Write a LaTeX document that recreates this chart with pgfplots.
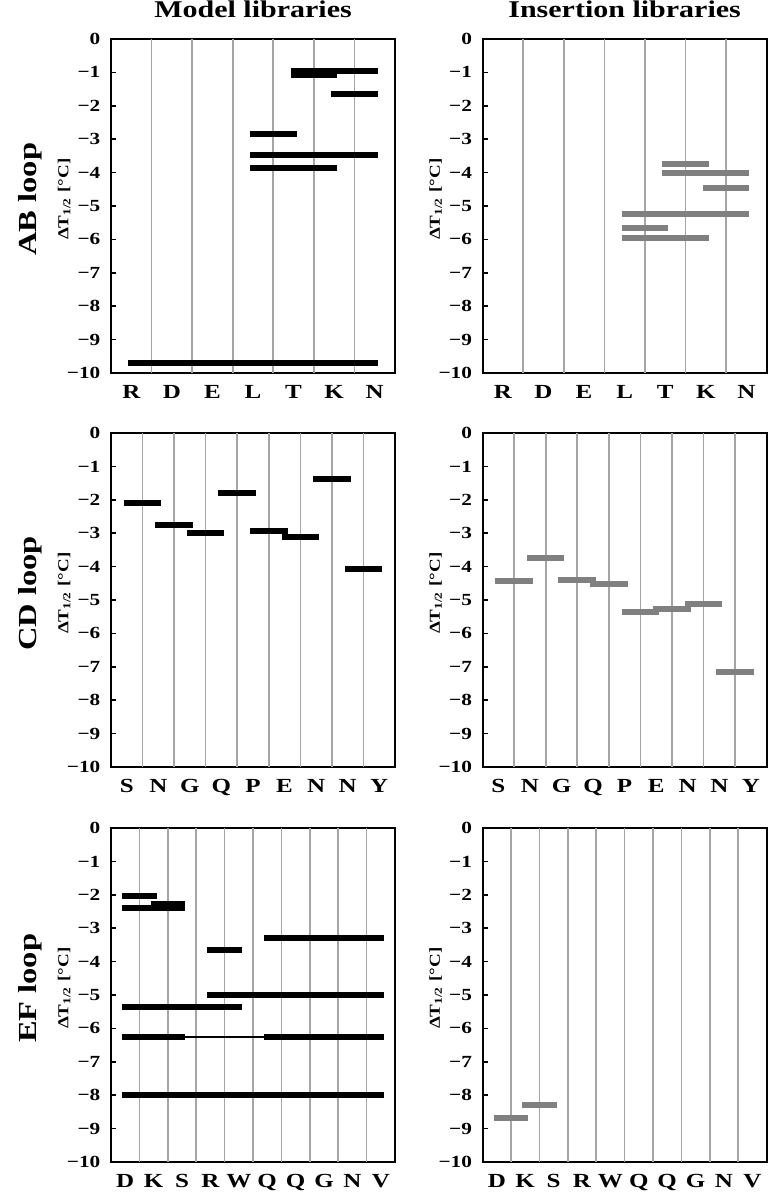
\documentclass[border=0pt]{standalone}
\usepackage{fontspec}
\setmainfont[FakeStretch=1.25]{Liberation Serif}
\usepackage{pgfplots}
\pgfplotsset{compat=1.18}

\definecolor{barg}{RGB}{128,128,128}
\definecolor{gridg}{RGB}{165,165,165}

\pgfplotsset{
  panel/.style={
    scale only axis, width=142pt, height=167pt, anchor=south west,
    clip=false,
    ymin=-10, ymax=0,
    ytick={-10,...,0},
    yticklabels={−10,−9,−8,−7,−6,−5,−4,−3,−2,−1,0},
    ytick pos=left, tick align=inside, major tick length=2.5pt,
    ytick style={black, line width=0.8pt},
    xtick style={draw=none},
    axis line style={line width=1pt},
    yticklabel style={font=\bfseries\fontsize{8.5}{10}\selectfont, xshift=-1.8pt},
    xticklabel style={font=\bfseries\fontsize{10}{11}\selectfont, yshift=-2.7pt},
    ylabel={ΔT\textsubscript{1/2} [°C]},
    ylabel style={font=\bfseries\fontsize{7.6}{9}\selectfont, at={(axis description cs:-0.165,0.52)}, anchor=center},
    extra x tick style={grid=major, major grid style={gridg, line width=0.8pt}},
    extra x tick labels={},
    title style={font=\bfseries\fontsize{12}{13}\selectfont, at={(axis description cs:0.5,1)}, anchor=base, yshift=4.8pt},
  },
  blk/.style={black, line width=3pt, line cap=rect, mark=none},
  gry/.style={barg, line width=3pt, line cap=rect, mark=none},
}
\newcommand{\looplabel}[1]{\node[rotate=90, font=\bfseries\fontsize{13}{14}\selectfont] at (axis description cs:-0.285,0.52) {#1};}

\begin{document}
\begin{tikzpicture}
\useasboundingbox (0,0) rectangle (385pt,596pt);

% ---- AB loop
\begin{axis}[panel, at={(55.5pt,409.5pt)}, title={Model libraries},
    xmin=0.5, xmax=7.5, xtick={1,...,7}, xticklabels={R,D,E,L,T,K,N},
    extra x ticks={1.5,2.5,...,6.5}]
\addplot[blk] coordinates {(5,-0.96) (7,-0.96)};
\addplot[blk] coordinates {(5,-1.09) (6,-1.09)};
\addplot[blk] coordinates {(6,-1.65) (7,-1.65)};
\addplot[blk] coordinates {(4,-2.84) (5,-2.84)};
\addplot[blk] coordinates {(4,-3.47) (7,-3.47)};
\addplot[blk] coordinates {(4,-3.87) (6,-3.87)};
\addplot[blk] coordinates {(1,-9.70) (7,-9.70)};
\looplabel{AB loop}
\end{axis}

\begin{axis}[panel, at={(241.3pt,409.5pt)}, title={Insertion libraries},
    xmin=0.5, xmax=7.5, xtick={1,...,7}, xticklabels={R,D,E,L,T,K,N},
    extra x ticks={1.5,2.5,...,6.5}]
\addplot[gry] coordinates {(5,-3.74) (6,-3.74)};
\addplot[gry] coordinates {(5,-4.01) (7,-4.01)};
\addplot[gry] coordinates {(6,-4.46) (7,-4.46)};
\addplot[gry] coordinates {(4,-5.23) (7,-5.23)};
\addplot[gry] coordinates {(4,-5.67) (5,-5.67)};
\addplot[gry] coordinates {(4,-5.95) (6,-5.95)};
\end{axis}

% ---- CD loop
\begin{axis}[panel, at={(55.5pt,212.5pt)},
    xmin=0.5, xmax=9.5, xtick={1,...,9}, xticklabels={S,N,G,Q,P,E,N,N,Y},
    extra x ticks={1.5,2.5,...,8.5}]
\addplot[blk] coordinates {(1,-2.10) (2,-2.10)};
\addplot[blk] coordinates {(2,-2.76) (3,-2.76)};
\addplot[blk] coordinates {(3,-2.99) (4,-2.99)};
\addplot[blk] coordinates {(4,-1.80) (5,-1.80)};
\addplot[blk] coordinates {(5,-2.93) (6,-2.93)};
\addplot[blk] coordinates {(6,-3.10) (7,-3.10)};
\addplot[blk] coordinates {(7,-1.38) (8,-1.38)};
\addplot[blk] coordinates {(8,-4.08) (9,-4.08)};
\looplabel{CD loop}
\end{axis}

\begin{axis}[panel, at={(241.3pt,212.5pt)},
    xmin=0.5, xmax=9.5, xtick={1,...,9}, xticklabels={S,N,G,Q,P,E,N,N,Y},
    extra x ticks={1.5,2.5,...,8.5}]
\addplot[gry] coordinates {(1,-4.43) (2,-4.43)};
\addplot[gry] coordinates {(2,-3.73) (3,-3.73)};
\addplot[gry] coordinates {(3,-4.40) (4,-4.40)};
\addplot[gry] coordinates {(4,-4.51) (5,-4.51)};
\addplot[gry] coordinates {(5,-5.36) (6,-5.36)};
\addplot[gry] coordinates {(6,-5.26) (7,-5.26)};
\addplot[gry] coordinates {(7,-5.11) (8,-5.11)};
\addplot[gry] coordinates {(8,-7.17) (9,-7.17)};
\end{axis}

% ---- EF loop
\begin{axis}[panel, at={(55.5pt,15pt)},
    xmin=0.5, xmax=10.5, xtick={1,...,10}, xticklabels={D,K,S,R,W,Q,Q,G,N,V},
    extra x ticks={1.5,2.5,...,9.5}]
\addplot[blk] coordinates {(1,-2.05) (2,-2.05)};
\addplot[blk] coordinates {(1,-2.39) (3,-2.39)};
\addplot[blk] coordinates {(2,-2.28) (3,-2.28)};
\addplot[blk] coordinates {(6,-3.30) (10,-3.30)};
\addplot[blk] coordinates {(4,-3.64) (5,-3.64)};
\addplot[blk] coordinates {(4,-5.00) (10,-5.00)};
\addplot[blk] coordinates {(1,-5.36) (5,-5.36)};
\addplot[blk] coordinates {(1,-6.26) (3,-6.26)};
\addplot[black, line width=0.6pt, mark=none] coordinates {(3,-6.26) (6,-6.26)};
\addplot[blk] coordinates {(6,-6.26) (10,-6.26)};
\addplot[blk] coordinates {(1,-7.98) (10,-7.98)};
\looplabel{EF loop}
\end{axis}

\begin{axis}[panel, at={(241.3pt,15pt)},
    xmin=0.5, xmax=10.5, xtick={1,...,10}, xticklabels={D,K,S,R,W,Q,Q,G,N,V},
    extra x ticks={1.5,2.5,...,9.5}]
\addplot[gry] coordinates {(1,-8.69) (2,-8.69)};
\addplot[gry] coordinates {(2,-8.28) (3,-8.28)};
\end{axis}
\end{tikzpicture}
\end{document}
